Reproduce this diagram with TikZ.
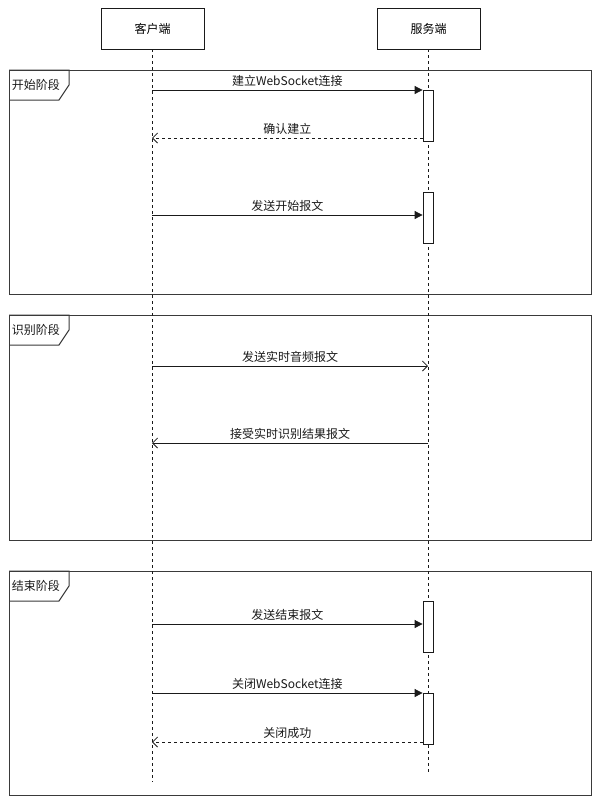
\documentclass[tikz,border=0pt]{standalone}
\usepackage{fontspec}
\setmainfont{Noto Sans CJK SC}
\usetikzlibrary{arrows.meta}
\definecolor{ink}{HTML}{1A1A1A}
\definecolor{framec}{HTML}{3A3A3A}
\tikzset{
  participant/.style={draw=ink, line width=0.9pt, minimum width=103pt, minimum height=41pt, inner sep=0pt},
  lifeline/.style={draw=ink, line width=0.8pt, dash pattern=on 3pt off 3pt},
  framebox/.style={draw=framec, line width=1pt, anchor=north west, inner sep=0pt},
  framelabel/.style={draw=framec, line width=1pt},
  activation/.style={draw=ink, fill=white, line width=0.8pt, minimum width=10pt, inner sep=0pt, anchor=north},
  syncmsg/.style={draw=ink, line width=0.8pt, -{Triangle[length=8pt,width=8pt]}},
  asyncmsg/.style={draw=ink, line width=0.8pt, -{Straight Barb[length=5pt,width=10pt]}},
  retmsg/.style={draw=ink, line width=0.8pt, dash pattern=on 3pt off 3pt, -{Straight Barb[length=5pt,width=10pt]}},
  msglabel/.style={midway, above, inner sep=0pt, yshift=3pt, text=ink},
}
\begin{document}
\begin{tikzpicture}[x=1pt, y=-1pt, font=\fontsize{12}{14}\selectfont]
\useasboundingbox[fill=white] (0,0) rectangle (600,804);

% frames
\node[framebox, minimum width=582pt, minimum height=224pt] (f1) at (9,70) {};
\node[framebox, minimum width=582pt, minimum height=225pt] (f2) at (9,315) {};
\node[framebox, minimum width=582pt, minimum height=224pt] (f3) at (9,571) {};
\foreach \f/\t in {f1/开始阶段, f2/识别阶段, f3/结束阶段}{
  \draw[framelabel] (\f.north west) -- ++(60,0) -- ++(0,15) -- ++(-10,15) -- ++(-50,0);
  \node[inner sep=0pt, text=ink] at ([xshift=27pt, yshift=-15pt]\f.north west) {\t};
}

% participants
\node[participant] (client) at (152.5,28.5) {客户端};
\node[participant] (server) at (428.5,28.5) {服务端};
\coordinate (cend) at (152,782);
\coordinate (send) at (428,775);
\draw[lifeline] (client.south -| cend) -- (cend);
\draw[lifeline] (server.south -| send) -- (send);

% activations
\node[activation, minimum height=51pt] (a1) at (428,90) {};
\node[activation, minimum height=51pt] (a2) at (428,192) {};
\node[activation, minimum height=51pt] (a3) at (428,601) {};
\node[activation, minimum height=51pt] (a4) at (428,693) {};

% message coordinates on the client lifeline
\coordinate (c1) at (152,90);
\coordinate (c2) at (152,138);
\coordinate (c3) at (152,215);
\coordinate (c4) at (152,366);
\coordinate (c5) at (152,443);
\coordinate (c6) at (152,624);
\coordinate (c7) at (152,693);
\coordinate (c8) at (152,742);

\draw[syncmsg] (c1) -- (a1.west |- c1) node[msglabel] {建立WebSocket连接};
\draw[retmsg] (a1.west |- c2) -- (c2) node[msglabel] {确认建立};
\draw[syncmsg] (c3) -- (a2.west |- c3) node[msglabel] {发送开始报文};
\draw[asyncmsg] (c4) -- (send |- c4) node[msglabel] {发送实时音频报文};
\draw[asyncmsg] (send |- c5) -- (c5) node[msglabel] {接受实时识别结果报文};
\draw[syncmsg] (c6) -- (a3.west |- c6) node[msglabel] {发送结束报文};
\draw[syncmsg] (c7) -- (a4.west |- c7) node[msglabel] {关闭WebSocket连接};
\draw[retmsg] (a4.west |- c8) -- (c8) node[msglabel] {关闭成功};
\end{tikzpicture}
\end{document}
